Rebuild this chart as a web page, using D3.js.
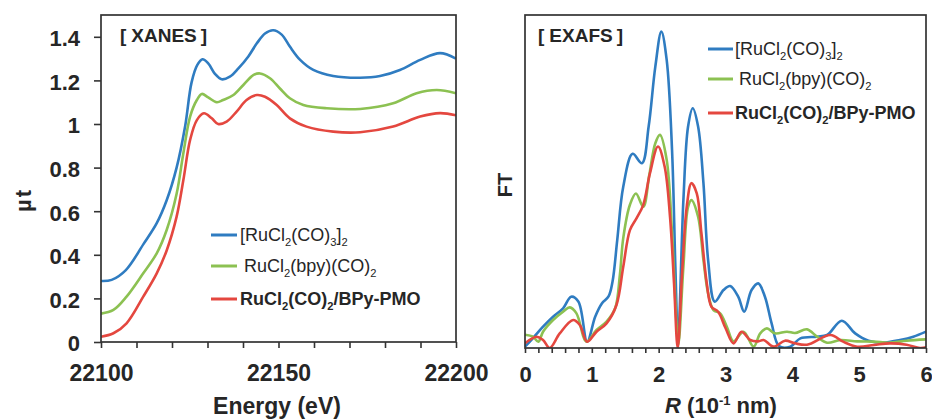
<!DOCTYPE html>
<html>
<head>
<meta charset="utf-8">
<script src="https://cdn.jsdelivr.net/npm/d3@7"></script>
<style>
  html, body { margin: 0; padding: 0; background: #fff; }
  svg { display: block; font-family: "Liberation Sans", Arial, sans-serif; }
</style>
</head>
<body>
<svg id="chart" width="932" height="419"></svg>
<script>
// ---------------- DATA ----------------
const seriesNames = ["[RuCl_2(CO)_3]_2", "RuCl_2(bpy)(CO)_2", "RuCl_2(CO)_2/BPy-PMO"];
const seriesColors = ["#2f7cc1", "#8cc152", "#e4473f"];

const xanesTicksY = [0, 0.2, 0.4, 0.6, 0.8, 1, 1.2, 1.4];
const xanesTicksXLabeled = [22100, 22150, 22200];
const exafsTicksXLabeled = [0, 1, 2, 3, 4, 5, 6];

// XANES: [energy (eV), mu t]
const xanesBlue = [[22100,0.28],[22103,0.285],[22107,0.33],[22112,0.45],[22115.7,0.545],[22118.5,0.65],[22121.3,0.80],[22123.7,0.99],[22125.5,1.19],[22127.1,1.27],[22128.6,1.297],[22130.2,1.278],[22132.1,1.23],[22134,1.205],[22136.3,1.217],[22138.7,1.255],[22141.5,1.31],[22143.9,1.37],[22146.2,1.415],[22148.5,1.43],[22150.9,1.41],[22153.2,1.355],[22156.1,1.294],[22159.8,1.248],[22165.4,1.22],[22173,1.212],[22178.6,1.22],[22184.2,1.248],[22189.9,1.294],[22195.5,1.325],[22200,1.30]];
const xanesGreen = [[22100,0.13],[22103.5,0.147],[22107.2,0.208],[22111.9,0.315],[22115.7,0.407],[22118.5,0.514],[22121.3,0.68],[22123.2,0.866],[22125.1,1.034],[22127,1.11],[22128.4,1.138],[22130.2,1.122],[22132.6,1.10],[22134.4,1.11],[22137.3,1.133],[22140.1,1.179],[22143,1.225],[22144.8,1.232],[22147.6,1.21],[22150.4,1.163],[22153.2,1.118],[22157,1.087],[22163.6,1.072],[22173,1.069],[22182.3,1.095],[22188.9,1.141],[22194.6,1.156],[22200,1.141]];
const xanesRed = [[22100,0.024],[22103.5,0.04],[22107.2,0.086],[22111.9,0.208],[22115.7,0.315],[22118.5,0.42],[22121.3,0.575],[22123.2,0.743],[22125.1,0.927],[22127,1.018],[22129,1.049],[22131.2,1.026],[22133,1.0],[22135.4,1.011],[22138.2,1.057],[22141,1.11],[22143.9,1.133],[22146.2,1.125],[22149.5,1.087],[22153.2,1.026],[22157.9,0.988],[22165.4,0.965],[22173,0.962],[22182.3,0.988],[22189.9,1.034],[22195.5,1.05],[22200,1.04]];

// EXAFS: [R (0.1 nm), FT (relative)]
const exafsBlue = [[0,0.004],[0.12,0.03],[0.27,0.064],[0.42,0.094],[0.57,0.119],[0.69,0.154],[0.8,0.139],[0.93,0.019],[1.05,0.094],[1.15,0.134],[1.25,0.155],[1.31,0.2],[1.38,0.324],[1.47,0.484],[1.61,0.583],[1.75,0.555],[1.85,0.665],[1.95,0.845],[2.04,0.95],[2.12,0.865],[2.20,0.595],[2.25,0.244],[2.29,0.024],[2.37,0.444],[2.44,0.665],[2.51,0.72],[2.59,0.665],[2.67,0.495],[2.74,0.264],[2.84,0.139],[2.97,0.174],[3.07,0.186],[3.19,0.154],[3.28,0.109],[3.39,0.174],[3.49,0.194],[3.59,0.154],[3.69,0.074],[3.8,0.006],[3.97,0.004],[4.12,0.029],[4.37,0.034],[4.52,0.039],[4.74,0.082],[4.94,0.044],[5.14,0.022],[5.36,0.016],[5.61,0.024],[5.81,0.034],[6,0.049]];
const exafsGreen = [[0,0.04],[0.12,0.034],[0.2,0.019],[0.27,0.049],[0.42,0.084],[0.57,0.109],[0.67,0.122],[0.77,0.104],[0.92,0.019],[1.07,0.054],[1.22,0.079],[1.35,0.12],[1.42,0.22],[1.47,0.33],[1.57,0.43],[1.66,0.464],[1.77,0.424],[1.86,0.52],[1.95,0.615],[2.02,0.64],[2.12,0.565],[2.2,0.345],[2.27,0.064],[2.295,0.01],[2.37,0.244],[2.44,0.424],[2.49,0.444],[2.59,0.394],[2.67,0.264],[2.74,0.164],[2.82,0.114],[2.92,0.104],[3.02,0.064],[3.12,0.02],[3.27,0.049],[3.42,0.004],[3.52,0.044],[3.62,0.059],[3.74,0.044],[3.92,0.049],[4.04,0.045],[4.22,0.056],[4.37,0.034],[4.52,0.016],[4.72,0.024],[4.97,0.02],[5.22,0.019],[5.46,0.016],[5.71,0.022],[6,0.026]];
const exafsRed = [[0,0.014],[0.17,0.034],[0.27,0.024],[0.37,0.0],[0.52,0.044],[0.72,0.084],[0.82,0.069],[0.93,0.019],[1.07,0.049],[1.22,0.074],[1.37,0.13],[1.47,0.244],[1.57,0.354],[1.67,0.39],[1.77,0.43],[1.87,0.525],[1.99,0.605],[2.09,0.544],[2.17,0.394],[2.23,0.194],[2.285,0.0],[2.35,0.224],[2.42,0.424],[2.49,0.495],[2.57,0.464],[2.64,0.344],[2.72,0.194],[2.79,0.124],[2.89,0.109],[3.0,0.06],[3.12,0.014],[3.24,0.049],[3.37,0.024],[3.49,0.02],[3.57,0.024],[3.72,0.004],[3.89,0.022],[4.04,0.014],[4.22,0.01],[4.57,0.039],[4.76,0.019],[4.97,0.004],[5.22,0.009],[5.46,0.014],[5.71,0.01],[5.91,0.0],[6,0.002]];

// ---------------- DRAW ----------------
const svg = d3.select("#chart");
const INK = "#262626";
const FRAME = "#333";

function richText(textSel, label, size) {
  const parts = [];
  let i = 0, buf = "";
  while (i < label.length) {
    if (label[i] === "_") {
      if (buf) parts.push([buf, "n"]); buf = "";
      i++;
      let s = "";
      while (i < label.length && /[0-9]/.test(label[i])) { s += label[i]; i++; }
      parts.push([s, "sub"]);
    } else { buf += label[i]; i++; }
  }
  if (buf) parts.push([buf, "n"]);
  let shift = 0;
  parts.forEach(([t, k]) => {
    const target = k === "sub" ? size * 0.28 : 0;
    const ts = textSel.append("tspan").text(t).attr("dy", target - shift);
    shift = target;
    if (k === "sub") ts.attr("font-size", size * 0.62);
  });
}

function panel(cfg) {
  const g = svg.append("g");
  const [x0, x1] = cfg.x.range();
  const [y0, y1] = cfg.y.range();
  const clipId = cfg.id + "-clip";
  svg.append("defs").append("clipPath").attr("id", clipId)
    .append("rect").attr("x", x0).attr("y", y1).attr("width", x1 - x0).attr("height", y0 - y1);

  const line = d3.line().x(d => cfg.x(d[0])).y(d => cfg.y(d[1]))
    .curve(d3.curveCatmullRom.alpha(0.5));
  const lg = g.append("g").attr("clip-path", `url(#${clipId})`);
  cfg.series.forEach((s, i) => {
    lg.append("path").datum(s).attr("d", line)
      .attr("fill", "none").attr("stroke", seriesColors[i])
      .attr("stroke-width", 2.6).attr("stroke-linejoin", "round");
  });

  g.append("rect").attr("x", x0).attr("y", y1).attr("width", x1 - x0).attr("height", y0 - y1)
    .attr("fill", "none").attr("stroke", FRAME).attr("stroke-width", 1.7);

  const xa = d3.axisBottom(cfg.x).tickValues(cfg.xMinor).tickSize(cfg.xTickSize)
    .tickPadding(cfg.xPad)
    .tickFormat(d => cfg.xLabeled.some(v => Math.abs(v - d) < 1e-6) ? d3.format("d")(Math.round(d)) : "");
  const xg = g.append("g").attr("transform", `translate(0,${y0})`).call(xa);
  xg.select(".domain").remove();
  xg.selectAll(".tick line").attr("stroke", FRAME).attr("stroke-width", 1.6);
  xg.selectAll(".tick text").attr("fill", INK).attr("font-size", cfg.xFont)
    .attr("font-weight", "bold").attr("font-family", "Liberation Sans, Arial, sans-serif");

  if (cfg.yTicks) {
    const ya = d3.axisLeft(cfg.y).tickValues(cfg.yTicks).tickSize(7).tickPadding(14)
      .tickFormat(d => String(+d.toFixed(1)));
    const yg = g.append("g").attr("transform", `translate(${x0},0)`).call(ya);
    yg.select(".domain").remove();
    yg.selectAll(".tick line").attr("stroke", FRAME).attr("stroke-width", 1.6);
    yg.selectAll(".tick text").attr("fill", INK).attr("font-size", 22)
      .attr("font-weight", "bold").attr("font-family", "Liberation Sans, Arial, sans-serif")
      .attr("dy", "0.4em");
  }

  // panel tag
  const tg = g.append("text").attr("x", cfg.tag.x).attr("y", cfg.tag.y)
    .attr("font-size", 19).attr("font-weight", "bold").attr("fill", INK);
  tg.append("tspan").text("[");
  tg.append("tspan").attr("dx", 5).text(cfg.tag.text);
  tg.append("tspan").attr("dx", 4).text("]");

  seriesNames.forEach((name, i) => {
    const ly = cfg.legend.y[i];
    g.append("line").attr("x1", cfg.legend.x1).attr("x2", cfg.legend.x2)
      .attr("y1", ly).attr("y2", ly).attr("stroke", seriesColors[i]).attr("stroke-width", 3);
    const t = g.append("text").attr("x", cfg.legend.tx + (i === 1 ? 4 : 0)).attr("y", ly + 6)
      .attr("font-size", 18).attr("fill", INK)
      .attr("font-weight", i === 2 ? "bold" : "normal");
    richText(t, name, 18);
  });
  return g;
}

// Left: XANES
const xL = d3.scaleLinear().domain([22100, 22200]).range([101, 456]);
const yL = d3.scaleLinear().domain([0, 1.5]).range([342, 15]);
panel({
  id: "xanes", x: xL, y: yL,
  series: [xanesBlue, xanesGreen, xanesRed],
  xMinor: d3.range(22100, 22200.1, 10), xLabeled: xanesTicksXLabeled,
  xTickSize: 6, xPad: 17, xFont: 23,
  yTicks: xanesTicksY,
  tag: { x: 120, y: 42, text: "XANES" },
  legend: { x1: 211, x2: 237, tx: 240, y: [235, 266, 299] }
});

// Right: EXAFS
const xR = d3.scaleLinear().domain([0, 6]).range([525, 926]);
const yR = d3.scaleLinear().domain([0, 1]).range([348, 15]);
panel({
  id: "exafs", x: xR, y: yR,
  series: [exafsBlue, exafsGreen, exafsRed],
  xMinor: d3.range(0, 6.01, 0.2), xLabeled: exafsTicksXLabeled,
  xTickSize: 5, xPad: 13, xFont: 22,
  yTicks: null,
  tag: { x: 538, y: 42, text: "EXAFS" },
  legend: { x1: 708, x2: 733, tx: 735, y: [49, 79, 113] }
});

// Axis titles
svg.append("text").attr("x", 277).attr("y", 414).attr("text-anchor", "middle")
  .attr("font-size", 23).attr("font-weight", "bold").attr("fill", INK).text("Energy (eV)");

svg.append("text").attr("transform", "translate(31,200) rotate(-90)").attr("text-anchor", "middle")
  .attr("font-size", 22).attr("font-weight", "bold").attr("fill", INK)
  .attr("letter-spacing", 2).text("µt");

svg.append("text").attr("transform", "translate(512,185) rotate(-90)").attr("text-anchor", "middle")
  .attr("font-size", 20).attr("font-weight", "bold").attr("fill", INK).text("FT");

const rt = svg.append("text").attr("x", 721).attr("y", 413).attr("text-anchor", "middle")
  .attr("font-size", 22).attr("font-weight", "bold").attr("fill", INK);
rt.append("tspan").attr("font-style", "italic").text("R");
rt.append("tspan").text(" (10");
rt.append("tspan").attr("font-size", 13).attr("dy", -8).text("-1");
rt.append("tspan").attr("dy", 8).text(" nm)");
</script>
</body>
</html>
